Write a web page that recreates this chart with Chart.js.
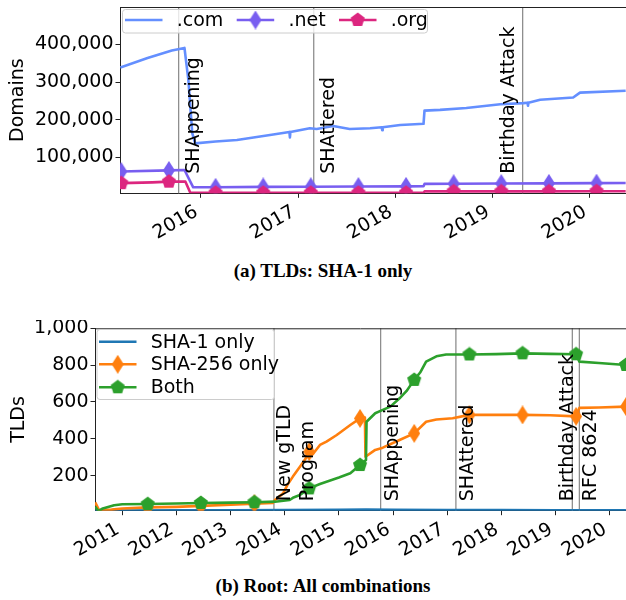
<!DOCTYPE html>
<html lang="en">
<head>
<meta charset="UTF-8">
<title>DNSSEC SHA-1 usage</title>
<script src="https://cdn.jsdelivr.net/npm/chart.js@4.4.0/dist/chart.umd.min.js"></script>
<style>
  html, body { margin: 0; padding: 0; background: #fff; }
  body { width: 626px; height: 600px; position: relative; overflow: hidden; }
  canvas { position: absolute; left: 0; }
  #tld { top: 0; }
  #root { top: 320px; }
  .cap { position: absolute; left: 0; width: 646px; text-align: center; color: #000;
         font: bold 19px "Liberation Serif", serif; line-height: 19px; white-space: nowrap; }
</style>
</head>
<body>
<canvas id="tld" width="626" height="250"></canvas>
<div class="cap" style="top:261px">(a) TLDs: SHA-1 only</div>
<canvas id="root" width="626" height="250"></canvas>
<div class="cap" style="top:576px">(b) Root: All combinations</div>
<script>
// ── (a) TLDs: SHA-1 only ─────────────────────────────────────────────────────
const tldYears = [2016, 2017, 2018, 2019, 2020];
const domainTicks = [100000, 200000, 300000, 400000];

const comDates = [2015.17, 2015.45, 2015.70, 2015.83, 2015.87, 2015.91, 2015.94, 2016.15, 2016.37, 2016.71,
  2016.91, 2016.915, 2016.92, 2017.12, 2017.19, 2017.36, 2017.53, 2017.74, 2017.86, 2017.865, 2017.87,
  2018.05, 2018.20, 2018.29, 2018.30, 2018.46, 2018.73, 2019.08, 2019.32, 2019.36, 2019.365, 2019.37,
  2019.49, 2019.83, 2019.90, 2020.37];
const comValues = [339000, 364000, 384000, 391000, 306000, 164000, 137000, 142000, 146000, 159000,
  167000, 153000, 167000, 177000, 175000, 183000, 175000, 177000, 180000, 172000, 180000,
  186000, 188000, 189000, 224000, 226000, 231000, 241000, 244000, 245000, 237000, 245000,
  253000, 259000, 272000, 277000];

const netDates = [2015.17, 2015.18, 2015.67, 2015.83, 2015.92, 2016.15, 2016.64, 2017.13, 2017.62, 2018.11,
  2018.29, 2018.30, 2018.60, 2019.09, 2019.58, 2020.07, 2020.37];
const netValues = [62000, 62000, 65000, 66000, 20000, 20000, 21000, 21500, 22000, 22500,
  23000, 29000, 29500, 30000, 30500, 31000, 31500];

const orgDates = [2015.17, 2015.18, 2015.50, 2015.67, 2015.84, 2015.89, 2016.15, 2016.64, 2017.13, 2017.62,
  2018.11, 2018.29, 2018.30, 2018.60, 2019.09, 2019.58, 2020.07, 2020.37];
const orgValues = [31000, 31000, 33000, 35000, 35000, 5500, 5500, 5500, 5500, 5500,
  5500, 5500, 9000, 9000, 9000, 9000, 9500, 9500];

const tldMarks = [2015.18, 2015.67, 2016.15, 2016.64, 2017.13, 2017.62, 2018.11, 2018.60, 2019.09, 2019.58, 2020.07];
const tldEvents = ["SHAppening", "SHAttered", "Birthday Attack"];
const tldEventDates = [2015.77, 2017.16, 2019.31];

// ── (b) Root: all combinations ───────────────────────────────────────────────
const rootYears = [2011, 2012, 2013, 2014, 2015, 2016, 2017, 2018, 2019, 2020];
const tldTicks = [200, 400, 600, 800, 1000];

const sha1Dates = [2010.50, 2011.0, 2012.0, 2013.0, 2014.0, 2015.0, 2015.5, 2016.0, 2017.0, 2018.0, 2019.0, 2020.30];
const sha1Values = [11, 11, 12, 12, 13, 15, 16, 15, 14, 13, 12, 12];

const sha256Dates = [2010.50, 2010.57, 2010.80, 2011.00, 2011.47, 2012.00, 2012.45, 2013.00, 2013.44, 2013.78,
  2013.82, 2013.97, 2014.05, 2014.15, 2014.28, 2014.38, 2014.45, 2014.52, 2014.65, 2014.77,
  2014.96, 2015.21, 2015.39, 2015.48, 2015.49, 2015.67, 2015.81, 2016.12, 2016.39, 2016.61,
  2016.80, 2017.10, 2017.41, 2017.90, 2018.39, 2018.90, 2019.38, 2019.44, 2019.80, 2020.30];
const sha256Values = [55, 14, 16, 22, 28, 31, 36, 42, 48, 52,
  68, 104, 150, 195, 249, 290, 330, 318, 367, 385,
  421, 475, 511, 515, 303, 340, 352, 394, 430, 493,
  505, 512, 530, 530, 530, 528, 522, 568, 570, 575];

const bothDates = [2010.50, 2010.56, 2010.64, 2010.85, 2011.00, 2011.47, 2012.00, 2012.45, 2013.00, 2013.44,
  2013.82, 2014.09, 2014.15, 2014.28, 2014.45, 2014.65, 2015.00, 2015.21, 2015.39, 2015.50,
  2015.51, 2015.67, 2015.81, 2015.95, 2016.12, 2016.25, 2016.39, 2016.50, 2016.61, 2016.80,
  2016.98, 2017.41, 2017.90, 2018.39, 2018.90, 2019.38, 2019.44, 2019.80, 2020.30];
const bothValues = [32, 8, 22, 40, 45, 46, 49, 52, 54, 56,
  59, 68, 80, 95, 131, 155, 190, 213, 258, 285,
  493, 539, 557, 575, 620, 660, 720, 760, 819, 848,
  858, 858, 860, 864, 861, 859, 819, 812, 801];

const rootMarks = [2011.47, 2012.45, 2013.44, 2014.45, 2015.39, 2016.39, 2017.41, 2018.39, 2019.38, 2020.30];
const rootEvents = ["New gTLD\nProgram", "SHAppening", "SHAttered", "Birthday Attack", "RFC 8624"];
const rootEventDates = [2013.80, 2015.77, 2017.16, 2019.31, 2019.44];

// ── Markers (matplotlib 'd' and 'p') ─────────────────────────────────────────
function marker(kind, color) {
  const c = document.createElement("canvas");
  const g = c.getContext("2d");
  if (kind === "diamond") {
    c.width = 12; c.height = 19;
    g.fillStyle = color;
    g.beginPath();
    g.moveTo(6, 0); g.lineTo(12, 9.5); g.lineTo(6, 19); g.lineTo(0, 9.5);
  } else {
    c.width = 16; c.height = 16;
    g.fillStyle = color;
    g.beginPath();
    for (let i = 0; i < 5; i++) {
      const a = -Math.PI / 2 + i * 2 * Math.PI / 5;
      g.lineTo(8 + 7.4 * Math.cos(a), 8 + 7.4 * Math.sin(a));
    }
  }
  g.closePath();
  g.fill();
  return c;
}

const pts = (xs, ys) => xs.map((x, i) => ({ x, y: ys[i] }));

function series(label, xs, ys, color, kind, marks, order) {
  const set = new Set(marks);
  return {
    label, data: pts(xs, ys), order,
    borderColor: color, backgroundColor: color, borderWidth: 2.6,
    borderJoinStyle: "round", tension: 0,
    pointStyle: kind ? marker(kind, color) : "circle",
    pointRadius: (c) => (kind && set.has(c.raw.x) ? 7 : 0),
  };
}

// ── Event lines, labels, top spine and legend ────────────────────────────────
const decor = {
  id: "decor",
  beforeDatasetsDraw(chart, args, o) {
    const { ctx, chartArea: a, scales: { x } } = chart;
    ctx.save();
    ctx.strokeStyle = "#8e8e8e";
    ctx.lineWidth = 1.3;
    for (const d of o.dates) {
      const px = x.getPixelForValue(d);
      ctx.beginPath(); ctx.moveTo(px, a.top); ctx.lineTo(px, a.bottom); ctx.stroke();
    }
    ctx.restore();
  },
  afterDatasetsDraw(chart, args, o) {
    const { ctx, chartArea: a, scales: { x } } = chart;
    ctx.save();
    ctx.font = '19px "DejaVu Sans"';
    ctx.fillStyle = "#000";
    ctx.textAlign = "left";
    ctx.textBaseline = "alphabetic";
    o.labels.forEach((label, i) => {
      const px = x.getPixelForValue(o.dates[i]) + o.shifts[i];
      label.split("\n").forEach((line, j) => {
        ctx.save();
        ctx.translate(px + j * 22.6, a.bottom - o.lift);
        ctx.rotate(-Math.PI / 2);
        ctx.fillText(line, 0, 0);
        ctx.restore();
      });
    });
    ctx.restore();
  },
  afterDraw(chart, args, o) {
    const { ctx, chartArea: a } = chart;
    ctx.save();
    ctx.strokeStyle = "#222";
    ctx.lineWidth = 1;
    ctx.beginPath(); ctx.moveTo(a.left, a.top + 0.5); ctx.lineTo(a.right, a.top + 0.5); ctx.stroke();

    const [bx, by, bw, bh] = o.box;
    ctx.beginPath();
    ctx.roundRect(bx + 0.5, by + 0.5, bw, bh, 3);
    ctx.fillStyle = "rgba(255,255,255,0.8)";
    ctx.fill();
    ctx.strokeStyle = "#cccccc";
    ctx.stroke();

    ctx.font = '19px "DejaVu Sans"';
    ctx.textAlign = "left";
    ctx.textBaseline = "alphabetic";
    chart.data.datasets.forEach((ds, i) => {
      const [lx, ly] = o.rows[i];
      ctx.strokeStyle = ds.borderColor;
      ctx.lineWidth = ds.borderWidth;
      ctx.beginPath(); ctx.moveTo(lx, ly); ctx.lineTo(lx + 37.5, ly); ctx.stroke();
      const m = ds.pointStyle;
      if (m instanceof HTMLCanvasElement) ctx.drawImage(m, lx + 18.75 - m.width / 2, ly - m.height / 2);
      ctx.fillStyle = "#000";
      ctx.fillText(ds.label, lx + 51.7, ly + 6);
    });
    ctx.restore();
  },
};

// ── Shared axis styling ──────────────────────────────────────────────────────
const font = { family: "DejaVu Sans", size: 19 };
const axisGrid = { drawOnChartArea: false, drawTicks: true, tickLength: 4.5, color: "#222", lineWidth: 1 };

function xAxis(min, max, years, height) {
  return {
    type: "linear", min, max,
    afterBuildTicks: (s) => { s.ticks = years.map((v) => ({ value: v })); },
    afterFit: (s) => { s.height = height; s.paddingLeft = 0; s.paddingRight = 0; },
    ticks: { autoSkip: false, minRotation: 30, maxRotation: 30, padding: 3, labelOffset: -4.4,
             color: "#000", font, callback: (v) => String(v) },
    grid: axisGrid,
    border: { color: "#222", width: 1 },
  };
}

function yAxis(min, max, ticks, width, title, titlePad) {
  return {
    min, max,
    afterBuildTicks: (s) => { s.ticks = ticks.map((v) => ({ value: v })); },
    afterFit: (s) => { s.width = width; s.paddingTop = 0; s.paddingBottom = 0; },
    ticks: { padding: 2, color: "#000", font, callback: (v) => v.toLocaleString("en-US") },
    grid: axisGrid,
    border: { color: "#222", width: 1 },
    title: { display: true, text: title, color: "#000", font, padding: { top: titlePad, bottom: 0 } },
  };
}

Chart.defaults.font.family = "DejaVu Sans";

new Chart(document.getElementById("tld"), {
  type: "line",
  data: {
    datasets: [
      series(".com", comDates, comValues, "#648FFF", null, [], 3),
      series(".net", netDates, netValues, "#785EF0", "diamond", tldMarks, 2),
      series(".org", orgDates, orgValues, "#DC267F", "pentagon", tldMarks, 1),
    ],
  },
  options: {
    responsive: false, animation: false, events: [],
    layout: { autoPadding: false, padding: { top: 7, left: 0, right: 0, bottom: 0 } },
    scales: {
      x: xAxis(2015.1665, 2020.3735, tldYears, 56.7),
      y: yAxis(4000, 500000, domainTicks, 120, "Domains", 6.6),
    },
    plugins: {
      legend: { display: false }, tooltip: { enabled: false },
      decor: {
        labels: tldEvents, dates: tldEventDates, shifts: [20, 20, -8.3], lift: 19.5,
        box: [122, 9, 305, 23.5],
        rows: [[125, 20], [236.7, 20], [339, 20]],
      },
    },
  },
  plugins: [decor],
});

new Chart(document.getElementById("root"), {
  type: "line",
  data: {
    datasets: [
      series("SHA-1 only", sha1Dates, sha1Values, "#1f77b4", null, [], 3),
      series("SHA-256 only", sha256Dates, sha256Values, "#ff7f0e", "diamond", rootMarks, 2),
      series("Both", bothDates, bothValues, "#2ca02c", "pentagon", rootMarks, 1),
    ],
  },
  options: {
    responsive: false, animation: false, events: [],
    layout: { autoPadding: false, padding: { top: 8.3, left: 0, right: 0, bottom: 0 } },
    scales: {
      x: xAxis(2010.496, 2020.301, rootYears, 59.3),
      y: yAxis(10, 1000, tldTicks, 95, "TLDs", 7.6),
    },
    plugins: {
      legend: { display: false }, tooltip: { enabled: false },
      decor: {
        labels: rootEvents, dates: rootEventDates, shifts: [16.5, 17.2, 17, 1, 16.5], lift: 9.5,
        box: [96.5, 9, 177.5, 70],
        rows: [[99, 21.7], [99, 44.3], [99, 67.3]],
      },
    },
  },
  plugins: [decor],
});
</script>
</body>
</html>
